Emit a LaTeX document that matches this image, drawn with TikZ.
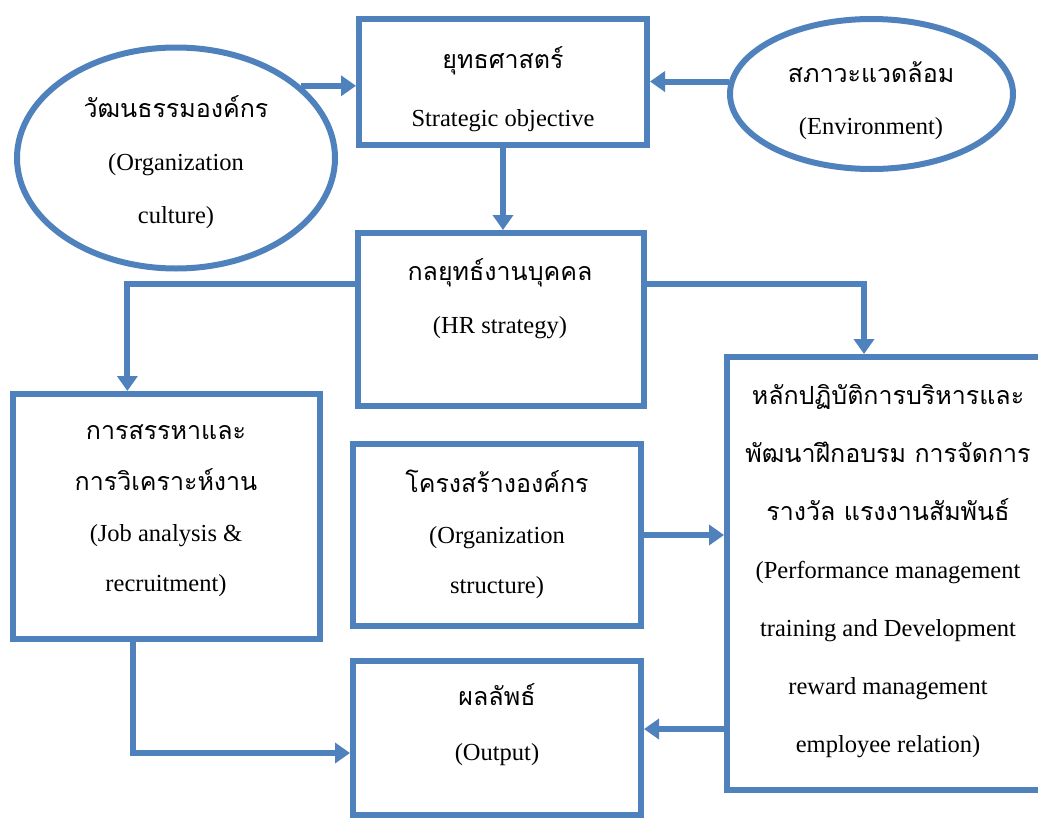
\documentclass[tikz,border=0pt]{standalone}
\usepackage{fontspec}
\setmainfont{Liberation Serif}
\newfontfamily\thaifont[Script=Thai]{Loma}
\usetikzlibrary{shapes.geometric,arrows.meta,calc}
\definecolor{hrblue}{HTML}{4F81BD}
\newcommand{\thaitxt}[1]{{\thaifont\fontsize{12.5pt}{12.5pt}\selectfont #1}}
\tikzset{
  boxb/.style={draw=hrblue, line width=3pt, rectangle, inner sep=0pt},
  ovalb/.style={draw=hrblue, line width=3pt, ellipse, inner sep=0pt},
  txtb/.style={align=center, inner sep=0pt, font=\fontsize{12.25pt}{#1}\selectfont},
  link/.style={draw=hrblue, line width=3pt, -{Triangle[length=7.5pt,width=10pt]}},
}

\begin{document}
\begin{tikzpicture}[x=0.5pt, y=-0.5pt]
  \useasboundingbox (0,0) rectangle (1038,819);
  \clip (0,0) rectangle (1038,819);
  \node[ovalb, minimum width=159pt, minimum height=110.5pt] (cult) at (176,158) {};
  \node[ovalb, minimum width=141.5pt, minimum height=75pt] (env) at (871.5,94) {};
  \node[boxb, minimum width=144pt, minimum height=63pt] (strat) at (503,82) {};
  \node[boxb, minimum width=143pt, minimum height=86.5pt] (hr) at (501,319.5) {};
  \node[boxb, minimum width=153.5pt, minimum height=122.5pt] (job) at (166.5,516.5) {};
  \node[boxb, minimum width=144pt, minimum height=91pt] (org) at (497,535) {};
  \node[boxb, minimum width=144pt, minimum height=77pt] (out) at (497,738) {};
  \node[boxb, minimum width=170pt, minimum height=216.5pt] (pm) at (897,573.5) {};

  \node[txtb=26.5pt] (culttxt) at (176,162) {\thaitxt{วัฒนธรรมองค์กร}\\(Organization\\culture)};
  \node[txtb=26pt] (envtxt) at (871,101) {\thaitxt{สภาวะแวดล้อม}\\(Environment)};
  \node[txtb=29pt] (strattxt) at (503,89) {\thaitxt{ยุทธศาสตร์}\\Strategic objective};
  \node[txtb=26.5pt] (hrtxt) at (500,298.5) {\thaitxt{กลยุทธ์งานบุคคล}\\(HR strategy)};
  \node[txtb=25.3pt] (jobtxt) at (166,511) {\thaitxt{การสรรหาและ}\\\thaitxt{การวิเคราะห์งาน}\\(Job analysis \&\\recruitment)};
  \node[txtb=25.3pt] (orgtxt) at (497,534.5) {\thaitxt{โครงสร้างองค์กร}\\(Organization\\structure)};
  \node[txtb=27.5pt] (outtxt) at (497,724.5) {\thaitxt{ผลลัพธ์}\\(Output)};
  \node[txtb=29pt] (pmtxt) at (888,571) {\thaitxt{หลักปฏิบัติการบริหารและ}\\\thaitxt{พัฒนาฝึกอบรม การจัดการ}\\\thaitxt{รางวัล แรงงานสัมพันธ์}\\(Performance management\\training and Development\\reward management\\employee relation)};

  \draw[link] (cult.30) -- (cult.30 -| strat.west);
  \draw[link] (env.175) -- (env.175 -| strat.east);
  \draw[link] (strat.south) -- (strat.south |- hr.north);
  \draw[link] ($(hr.north west)!.3!(hr.south west)$) -| ($(job.north west)!.375!(job.north east)$);
  \draw[link] ($(hr.north east)!.3!(hr.south east)$) -| ([xshift=70pt]pm.north west);
  \draw[link] (org.east) -- (org.east -| pm.west);
  \draw[link] ([yshift=4.5pt]out.east -| pm.west) -- ([yshift=4.5pt]out.east);
  \draw[link] ([xshift=-16.75pt]job.south) |- ([yshift=-7.5pt]out.west);
\end{tikzpicture}
\end{document}
